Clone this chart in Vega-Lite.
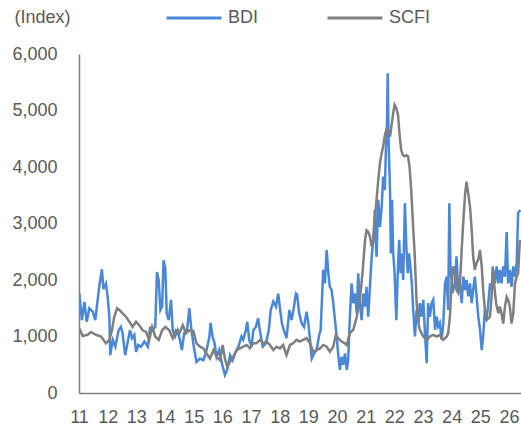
{
  "$schema": "https://vega.github.io/schema/vega-lite/v6.json",
  "width": 442,
  "height": 339,
  "autosize": {"type": "none"},
  "padding": {"left": 79, "top": 54, "right": 0, "bottom": 34},
  "background": "white",
  "config": {
    "view": {"stroke": null},
    "font": "Liberation Sans",
    "axis": {"labelOverlap": false}
  },
  "datasets": {
    "series": [
      {"s":"BDI","t":2011.01,"v":1770},{"s":"BDI","t":2011.10,"v":1290},{"s":"BDI","t":2011.19,"v":1610},{"s":"BDI","t":2011.27,"v":1260},{"s":"BDI","t":2011.36,"v":1500},{"s":"BDI","t":2011.48,"v":1440},{"s":"BDI","t":2011.57,"v":1290},{"s":"BDI","t":2011.69,"v":1820},{"s":"BDI","t":2011.73,"v":1960},{"s":"BDI","t":2011.80,"v":2190},{"s":"BDI","t":2011.85,"v":1840},{"s":"BDI","t":2011.94,"v":1940},{"s":"BDI","t":2012.00,"v":1700},{"s":"BDI","t":2012.06,"v":1340},{"s":"BDI","t":2012.09,"v":670},{"s":"BDI","t":2012.18,"v":940},{"s":"BDI","t":2012.27,"v":820},{"s":"BDI","t":2012.38,"v":1110},{"s":"BDI","t":2012.46,"v":1170},{"s":"BDI","t":2012.52,"v":1060},{"s":"BDI","t":2012.61,"v":670},{"s":"BDI","t":2012.69,"v":880},{"s":"BDI","t":2012.78,"v":1110},{"s":"BDI","t":2012.85,"v":970},{"s":"BDI","t":2012.93,"v":1030},{"s":"BDI","t":2012.99,"v":730},{"s":"BDI","t":2013.07,"v":850},{"s":"BDI","t":2013.16,"v":820},{"s":"BDI","t":2013.28,"v":910},{"s":"BDI","t":2013.40,"v":820},{"s":"BDI","t":2013.48,"v":1150},{"s":"BDI","t":2013.57,"v":1120},{"s":"BDI","t":2013.66,"v":1170},{"s":"BDI","t":2013.72,"v":2140},{"s":"BDI","t":2013.78,"v":2000},{"s":"BDI","t":2013.84,"v":1470},{"s":"BDI","t":2013.90,"v":1530},{"s":"BDI","t":2013.95,"v":2350},{"s":"BDI","t":2014.01,"v":2210},{"s":"BDI","t":2014.06,"v":1410},{"s":"BDI","t":2014.13,"v":1290},{"s":"BDI","t":2014.21,"v":1650},{"s":"BDI","t":2014.27,"v":1110},{"s":"BDI","t":2014.35,"v":1000},{"s":"BDI","t":2014.44,"v":1110},{"s":"BDI","t":2014.52,"v":940},{"s":"BDI","t":2014.59,"v":760},{"s":"BDI","t":2014.67,"v":1060},{"s":"BDI","t":2014.77,"v":1110},{"s":"BDI","t":2014.85,"v":1500},{"s":"BDI","t":2014.91,"v":1170},{"s":"BDI","t":2015.01,"v":800},{"s":"BDI","t":2015.10,"v":550},{"s":"BDI","t":2015.22,"v":610},{"s":"BDI","t":2015.34,"v":580},{"s":"BDI","t":2015.45,"v":760},{"s":"BDI","t":2015.55,"v":1000},{"s":"BDI","t":2015.59,"v":1240},{"s":"BDI","t":2015.66,"v":1000},{"s":"BDI","t":2015.73,"v":880},{"s":"BDI","t":2015.80,"v":640},{"s":"BDI","t":2015.89,"v":760},{"s":"BDI","t":2015.99,"v":520},{"s":"BDI","t":2016.09,"v":320},{"s":"BDI","t":2016.17,"v":410},{"s":"BDI","t":2016.27,"v":670},{"s":"BDI","t":2016.36,"v":580},{"s":"BDI","t":2016.44,"v":700},{"s":"BDI","t":2016.56,"v":820},{"s":"BDI","t":2016.67,"v":1000},{"s":"BDI","t":2016.73,"v":940},{"s":"BDI","t":2016.82,"v":1110},{"s":"BDI","t":2016.87,"v":1260},{"s":"BDI","t":2016.94,"v":940},{"s":"BDI","t":2017.02,"v":820},{"s":"BDI","t":2017.08,"v":1110},{"s":"BDI","t":2017.17,"v":1170},{"s":"BDI","t":2017.25,"v":1320},{"s":"BDI","t":2017.31,"v":1110},{"s":"BDI","t":2017.41,"v":820},{"s":"BDI","t":2017.52,"v":880},{"s":"BDI","t":2017.62,"v":1110},{"s":"BDI","t":2017.69,"v":1470},{"s":"BDI","t":2017.78,"v":1620},{"s":"BDI","t":2017.87,"v":1530},{"s":"BDI","t":2017.95,"v":1760},{"s":"BDI","t":2018.01,"v":1500},{"s":"BDI","t":2018.08,"v":1230},{"s":"BDI","t":2018.15,"v":1110},{"s":"BDI","t":2018.24,"v":970},{"s":"BDI","t":2018.34,"v":1470},{"s":"BDI","t":2018.42,"v":1290},{"s":"BDI","t":2018.50,"v":1530},{"s":"BDI","t":2018.57,"v":1760},{"s":"BDI","t":2018.61,"v":1740},{"s":"BDI","t":2018.68,"v":1410},{"s":"BDI","t":2018.77,"v":1230},{"s":"BDI","t":2018.85,"v":1170},{"s":"BDI","t":2018.94,"v":1440},{"s":"BDI","t":2019.00,"v":1240},{"s":"BDI","t":2019.06,"v":940},{"s":"BDI","t":2019.12,"v":610},{"s":"BDI","t":2019.20,"v":700},{"s":"BDI","t":2019.29,"v":760},{"s":"BDI","t":2019.38,"v":1030},{"s":"BDI","t":2019.43,"v":1110},{"s":"BDI","t":2019.52,"v":2180},{"s":"BDI","t":2019.58,"v":1940},{"s":"BDI","t":2019.64,"v":2530},{"s":"BDI","t":2019.70,"v":2120},{"s":"BDI","t":2019.75,"v":1880},{"s":"BDI","t":2019.81,"v":1830},{"s":"BDI","t":2019.87,"v":1590},{"s":"BDI","t":2019.93,"v":1290},{"s":"BDI","t":2019.99,"v":1000},{"s":"BDI","t":2020.04,"v":700},{"s":"BDI","t":2020.10,"v":410},{"s":"BDI","t":2020.16,"v":640},{"s":"BDI","t":2020.22,"v":500},{"s":"BDI","t":2020.28,"v":700},{"s":"BDI","t":2020.34,"v":410},{"s":"BDI","t":2020.39,"v":580},{"s":"BDI","t":2020.45,"v":1350},{"s":"BDI","t":2020.51,"v":1940},{"s":"BDI","t":2020.57,"v":1590},{"s":"BDI","t":2020.63,"v":1760},{"s":"BDI","t":2020.69,"v":1410},{"s":"BDI","t":2020.74,"v":2120},{"s":"BDI","t":2020.80,"v":1590},{"s":"BDI","t":2020.86,"v":1290},{"s":"BDI","t":2020.92,"v":1760},{"s":"BDI","t":2020.98,"v":1530},{"s":"BDI","t":2021.03,"v":1880},{"s":"BDI","t":2021.09,"v":1350},{"s":"BDI","t":2021.15,"v":1880},{"s":"BDI","t":2021.21,"v":2410},{"s":"BDI","t":2021.27,"v":2710},{"s":"BDI","t":2021.32,"v":3240},{"s":"BDI","t":2021.38,"v":2410},{"s":"BDI","t":2021.44,"v":3420},{"s":"BDI","t":2021.50,"v":2940},{"s":"BDI","t":2021.56,"v":3300},{"s":"BDI","t":2021.61,"v":3830},{"s":"BDI","t":2021.67,"v":3590},{"s":"BDI","t":2021.71,"v":4360},{"s":"BDI","t":2021.74,"v":4600},{"s":"BDI","t":2021.77,"v":5660},{"s":"BDI","t":2021.80,"v":4480},{"s":"BDI","t":2021.85,"v":3590},{"s":"BDI","t":2021.88,"v":2470},{"s":"BDI","t":2021.92,"v":3420},{"s":"BDI","t":2021.96,"v":2500},{"s":"BDI","t":2022.01,"v":2120},{"s":"BDI","t":2022.07,"v":1290},{"s":"BDI","t":2022.12,"v":2120},{"s":"BDI","t":2022.17,"v":2710},{"s":"BDI","t":2022.22,"v":2120},{"s":"BDI","t":2022.27,"v":2470},{"s":"BDI","t":2022.31,"v":2000},{"s":"BDI","t":2022.37,"v":3360},{"s":"BDI","t":2022.42,"v":2590},{"s":"BDI","t":2022.47,"v":2120},{"s":"BDI","t":2022.51,"v":2470},{"s":"BDI","t":2022.55,"v":2300},{"s":"BDI","t":2022.61,"v":1940},{"s":"BDI","t":2022.66,"v":1470},{"s":"BDI","t":2022.72,"v":1000},{"s":"BDI","t":2022.78,"v":1470},{"s":"BDI","t":2022.84,"v":1240},{"s":"BDI","t":2022.89,"v":1590},{"s":"BDI","t":2022.95,"v":1350},{"s":"BDI","t":2023.01,"v":1650},{"s":"BDI","t":2023.07,"v":1060},{"s":"BDI","t":2023.13,"v":530},{"s":"BDI","t":2023.18,"v":1590},{"s":"BDI","t":2023.24,"v":1350},{"s":"BDI","t":2023.30,"v":1590},{"s":"BDI","t":2023.36,"v":1650},{"s":"BDI","t":2023.42,"v":1120},{"s":"BDI","t":2023.48,"v":1350},{"s":"BDI","t":2023.53,"v":1180},{"s":"BDI","t":2023.59,"v":1240},{"s":"BDI","t":2023.65,"v":940},{"s":"BDI","t":2023.71,"v":1240},{"s":"BDI","t":2023.77,"v":1940},{"s":"BDI","t":2023.83,"v":2060},{"s":"BDI","t":2023.88,"v":1470},{"s":"BDI","t":2023.92,"v":3360},{"s":"BDI","t":2023.96,"v":2240},{"s":"BDI","t":2024.03,"v":1770},{"s":"BDI","t":2024.11,"v":1940},{"s":"BDI","t":2024.17,"v":2420},{"s":"BDI","t":2024.23,"v":1820},{"s":"BDI","t":2024.29,"v":1940},{"s":"BDI","t":2024.35,"v":1590},{"s":"BDI","t":2024.41,"v":2060},{"s":"BDI","t":2024.47,"v":1820},{"s":"BDI","t":2024.52,"v":2000},{"s":"BDI","t":2024.58,"v":1710},{"s":"BDI","t":2024.64,"v":1940},{"s":"BDI","t":2024.70,"v":1590},{"s":"BDI","t":2024.75,"v":1820},{"s":"BDI","t":2024.81,"v":2060},{"s":"BDI","t":2024.87,"v":1710},{"s":"BDI","t":2024.93,"v":1350},{"s":"BDI","t":2024.99,"v":1120},{"s":"BDI","t":2025.05,"v":760},{"s":"BDI","t":2025.10,"v":1000},{"s":"BDI","t":2025.16,"v":1470},{"s":"BDI","t":2025.22,"v":1300},{"s":"BDI","t":2025.28,"v":1590},{"s":"BDI","t":2025.34,"v":1940},{"s":"BDI","t":2025.40,"v":1820},{"s":"BDI","t":2025.45,"v":2180},{"s":"BDI","t":2025.51,"v":1940},{"s":"BDI","t":2025.57,"v":2240},{"s":"BDI","t":2025.63,"v":1940},{"s":"BDI","t":2025.68,"v":2180},{"s":"BDI","t":2025.74,"v":1940},{"s":"BDI","t":2025.80,"v":2240},{"s":"BDI","t":2025.86,"v":2060},{"s":"BDI","t":2025.92,"v":2850},{"s":"BDI","t":2025.97,"v":1940},{"s":"BDI","t":2026.03,"v":2180},{"s":"BDI","t":2026.09,"v":1880},{"s":"BDI","t":2026.15,"v":2240},{"s":"BDI","t":2026.21,"v":2060},{"s":"BDI","t":2026.27,"v":2300},{"s":"BDI","t":2026.32,"v":3190},{"s":"BDI","t":2026.40,"v":3240},
      {"s":"SCFI","t":2011.01,"v":1140},{"s":"SCFI","t":2011.13,"v":1010},{"s":"SCFI","t":2011.30,"v":1030},{"s":"SCFI","t":2011.42,"v":1080},{"s":"SCFI","t":2011.59,"v":1030},{"s":"SCFI","t":2011.77,"v":1000},{"s":"SCFI","t":2011.94,"v":880},{"s":"SCFI","t":2012.06,"v":940},{"s":"SCFI","t":2012.15,"v":1110},{"s":"SCFI","t":2012.23,"v":1350},{"s":"SCFI","t":2012.33,"v":1500},{"s":"SCFI","t":2012.41,"v":1470},{"s":"SCFI","t":2012.52,"v":1410},{"s":"SCFI","t":2012.64,"v":1350},{"s":"SCFI","t":2012.76,"v":1260},{"s":"SCFI","t":2012.87,"v":1170},{"s":"SCFI","t":2012.99,"v":1260},{"s":"SCFI","t":2013.10,"v":1200},{"s":"SCFI","t":2013.22,"v":1110},{"s":"SCFI","t":2013.34,"v":1080},{"s":"SCFI","t":2013.45,"v":940},{"s":"SCFI","t":2013.55,"v":1170},{"s":"SCFI","t":2013.66,"v":1000},{"s":"SCFI","t":2013.78,"v":940},{"s":"SCFI","t":2013.90,"v":1110},{"s":"SCFI","t":2014.01,"v":1170},{"s":"SCFI","t":2014.15,"v":1110},{"s":"SCFI","t":2014.27,"v":970},{"s":"SCFI","t":2014.38,"v":1110},{"s":"SCFI","t":2014.50,"v":1060},{"s":"SCFI","t":2014.62,"v":1200},{"s":"SCFI","t":2014.73,"v":1060},{"s":"SCFI","t":2014.85,"v":1110},{"s":"SCFI","t":2014.99,"v":1100},{"s":"SCFI","t":2015.10,"v":880},{"s":"SCFI","t":2015.22,"v":820},{"s":"SCFI","t":2015.34,"v":790},{"s":"SCFI","t":2015.45,"v":700},{"s":"SCFI","t":2015.57,"v":610},{"s":"SCFI","t":2015.69,"v":760},{"s":"SCFI","t":2015.80,"v":640},{"s":"SCFI","t":2015.92,"v":580},{"s":"SCFI","t":2016.01,"v":850},{"s":"SCFI","t":2016.09,"v":610},{"s":"SCFI","t":2016.17,"v":470},{"s":"SCFI","t":2016.27,"v":550},{"s":"SCFI","t":2016.38,"v":640},{"s":"SCFI","t":2016.50,"v":760},{"s":"SCFI","t":2016.61,"v":790},{"s":"SCFI","t":2016.73,"v":820},{"s":"SCFI","t":2016.85,"v":850},{"s":"SCFI","t":2016.96,"v":790},{"s":"SCFI","t":2017.08,"v":880},{"s":"SCFI","t":2017.19,"v":880},{"s":"SCFI","t":2017.31,"v":940},{"s":"SCFI","t":2017.43,"v":880},{"s":"SCFI","t":2017.54,"v":910},{"s":"SCFI","t":2017.66,"v":850},{"s":"SCFI","t":2017.78,"v":760},{"s":"SCFI","t":2017.89,"v":820},{"s":"SCFI","t":2018.01,"v":790},{"s":"SCFI","t":2018.12,"v":850},{"s":"SCFI","t":2018.24,"v":670},{"s":"SCFI","t":2018.36,"v":850},{"s":"SCFI","t":2018.47,"v":880},{"s":"SCFI","t":2018.59,"v":940},{"s":"SCFI","t":2018.70,"v":910},{"s":"SCFI","t":2018.82,"v":940},{"s":"SCFI","t":2018.94,"v":970},{"s":"SCFI","t":2019.06,"v":880},{"s":"SCFI","t":2019.17,"v":730},{"s":"SCFI","t":2019.29,"v":760},{"s":"SCFI","t":2019.41,"v":790},{"s":"SCFI","t":2019.52,"v":850},{"s":"SCFI","t":2019.64,"v":820},{"s":"SCFI","t":2019.75,"v":730},{"s":"SCFI","t":2019.87,"v":820},{"s":"SCFI","t":2019.96,"v":1030},{"s":"SCFI","t":2020.04,"v":970},{"s":"SCFI","t":2020.16,"v":910},{"s":"SCFI","t":2020.28,"v":880},{"s":"SCFI","t":2020.34,"v":850},{"s":"SCFI","t":2020.45,"v":1060},{"s":"SCFI","t":2020.57,"v":1120},{"s":"SCFI","t":2020.69,"v":1350},{"s":"SCFI","t":2020.80,"v":1650},{"s":"SCFI","t":2020.89,"v":2120},{"s":"SCFI","t":2020.98,"v":2710},{"s":"SCFI","t":2021.03,"v":2880},{"s":"SCFI","t":2021.09,"v":2850},{"s":"SCFI","t":2021.15,"v":2770},{"s":"SCFI","t":2021.21,"v":2590},{"s":"SCFI","t":2021.27,"v":2720},{"s":"SCFI","t":2021.32,"v":3060},{"s":"SCFI","t":2021.38,"v":3420},{"s":"SCFI","t":2021.44,"v":3770},{"s":"SCFI","t":2021.50,"v":4070},{"s":"SCFI","t":2021.56,"v":4250},{"s":"SCFI","t":2021.61,"v":4360},{"s":"SCFI","t":2021.67,"v":4560},{"s":"SCFI","t":2021.73,"v":4670},{"s":"SCFI","t":2021.79,"v":4630},{"s":"SCFI","t":2021.85,"v":4540},{"s":"SCFI","t":2021.90,"v":4720},{"s":"SCFI","t":2021.96,"v":4950},{"s":"SCFI","t":2022.01,"v":5100},{"s":"SCFI","t":2022.07,"v":5040},{"s":"SCFI","t":2022.13,"v":4920},{"s":"SCFI","t":2022.19,"v":4540},{"s":"SCFI","t":2022.24,"v":4300},{"s":"SCFI","t":2022.30,"v":4210},{"s":"SCFI","t":2022.36,"v":4190},{"s":"SCFI","t":2022.42,"v":4210},{"s":"SCFI","t":2022.48,"v":4190},{"s":"SCFI","t":2022.53,"v":4010},{"s":"SCFI","t":2022.59,"v":3590},{"s":"SCFI","t":2022.65,"v":3000},{"s":"SCFI","t":2022.71,"v":2470},{"s":"SCFI","t":2022.78,"v":1590},{"s":"SCFI","t":2022.84,"v":1240},{"s":"SCFI","t":2022.89,"v":1120},{"s":"SCFI","t":2022.95,"v":1060},{"s":"SCFI","t":2023.01,"v":1000},{"s":"SCFI","t":2023.13,"v":940},{"s":"SCFI","t":2023.24,"v":1000},{"s":"SCFI","t":2023.36,"v":1030},{"s":"SCFI","t":2023.48,"v":1000},{"s":"SCFI","t":2023.59,"v":1030},{"s":"SCFI","t":2023.71,"v":940},{"s":"SCFI","t":2023.83,"v":1000},{"s":"SCFI","t":2023.88,"v":1060},{"s":"SCFI","t":2023.94,"v":1350},{"s":"SCFI","t":2024.00,"v":1940},{"s":"SCFI","t":2024.06,"v":2240},{"s":"SCFI","t":2024.11,"v":2180},{"s":"SCFI","t":2024.17,"v":1820},{"s":"SCFI","t":2024.23,"v":1770},{"s":"SCFI","t":2024.29,"v":1940},{"s":"SCFI","t":2024.35,"v":2530},{"s":"SCFI","t":2024.41,"v":3060},{"s":"SCFI","t":2024.47,"v":3530},{"s":"SCFI","t":2024.52,"v":3740},{"s":"SCFI","t":2024.58,"v":3530},{"s":"SCFI","t":2024.64,"v":3300},{"s":"SCFI","t":2024.70,"v":2890},{"s":"SCFI","t":2024.75,"v":2420},{"s":"SCFI","t":2024.81,"v":2180},{"s":"SCFI","t":2024.87,"v":2300},{"s":"SCFI","t":2024.93,"v":2360},{"s":"SCFI","t":2024.99,"v":2530},{"s":"SCFI","t":2025.05,"v":2240},{"s":"SCFI","t":2025.10,"v":1820},{"s":"SCFI","t":2025.16,"v":1470},{"s":"SCFI","t":2025.22,"v":1290},{"s":"SCFI","t":2025.34,"v":1350},{"s":"SCFI","t":2025.40,"v":1760},{"s":"SCFI","t":2025.43,"v":2240},{"s":"SCFI","t":2025.48,"v":1940},{"s":"SCFI","t":2025.55,"v":1590},{"s":"SCFI","t":2025.63,"v":1410},{"s":"SCFI","t":2025.68,"v":1530},{"s":"SCFI","t":2025.74,"v":1410},{"s":"SCFI","t":2025.80,"v":1230},{"s":"SCFI","t":2025.86,"v":1530},{"s":"SCFI","t":2025.92,"v":1700},{"s":"SCFI","t":2025.97,"v":1650},{"s":"SCFI","t":2026.03,"v":1530},{"s":"SCFI","t":2026.09,"v":1230},{"s":"SCFI","t":2026.15,"v":1410},{"s":"SCFI","t":2026.21,"v":1940},{"s":"SCFI","t":2026.27,"v":2060},{"s":"SCFI","t":2026.32,"v":2120},{"s":"SCFI","t":2026.38,"v":2710}
    ],
    "xticks": [{"t":2012},{"t":2013},{"t":2014},{"t":2015},{"t":2016},{"t":2017},{"t":2018},{"t":2019},{"t":2020},{"t":2021},{"t":2022},{"t":2023},{"t":2024},{"t":2025},{"t":2026}],
    "yticks": [{"v":1000},{"v":2000},{"v":3000},{"v":4000},{"v":5000},{"v":6000}]
  },
  "encoding": {
    "x": {
      "field": "t", "type": "quantitative",
      "scale": {"domain": [2011, 2026.42], "nice": false, "zero": false},
      "axis": {
        "title": null, "grid": false, "ticks": false,
        "values": [2011,2012,2013,2014,2015,2016,2017,2018,2019,2020,2021,2022,2023,2024,2025,2026],
        "format": "d", "labelExpr": "substring(datum.label, 2)",
        "domainColor": "#808080", "domainWidth": 1.5,
        "labelPadding": 15, "labelFontSize": 18, "labelColor": "#595959",
        "labelFlush": false, "labelOverlap": false
      }
    },
    "y": {
      "field": "v", "type": "quantitative",
      "scale": {"domain": [0, 6000], "nice": false},
      "axis": {
        "title": "(Index)", "titleAngle": 0, "titleAlign": "left", "titleBaseline": "middle",
        "titleX": -65, "titleY": -37, "titleFontSize": 18, "titleFontWeight": "normal", "titleColor": "#595959",
        "grid": false, "ticks": false,
        "values": [0,1000,2000,3000,4000,5000,6000], "format": ",d",
        "domainColor": "#808080", "domainWidth": 1.5,
        "labelPadding": 22, "labelFontSize": 18, "labelColor": "#595959", "labelOverlap": false
      }
    }
  },
  "layer": [
    {
      "data": {"name": "series"},
      "mark": {"type": "line", "strokeWidth": 2.5, "clip": true},
      "encoding": {
        "color": {
          "field": "s", "type": "nominal",
          "scale": {"domain": ["BDI", "SCFI"], "range": ["#4A87D6", "#7F7F7F"]},
          "legend": {
            "title": null, "orient": "none", "direction": "horizontal",
            "legendX": 86, "legendY": -65,
            "symbolType": "stroke", "symbolSize": 3025, "symbolStrokeWidth": 3,
            "labelFontSize": 18, "labelColor": "#595959", "labelOffset": 5,
            "columnPadding": 62
          }
        }
      }
    },
    {
      "data": {"name": "xticks"},
      "mark": {"type": "rule", "color": "#808080", "strokeWidth": 1.5},
      "encoding": {
        "y": {"datum": 0},
        "y2": {"datum": 75}
      }
    },
    {
      "data": {"name": "yticks"},
      "mark": {"type": "rule", "color": "#808080", "strokeWidth": 1.5},
      "encoding": {
        "x": {"datum": 2011},
        "x2": {"datum": 2011.17}
      }
    }
  ]
}
